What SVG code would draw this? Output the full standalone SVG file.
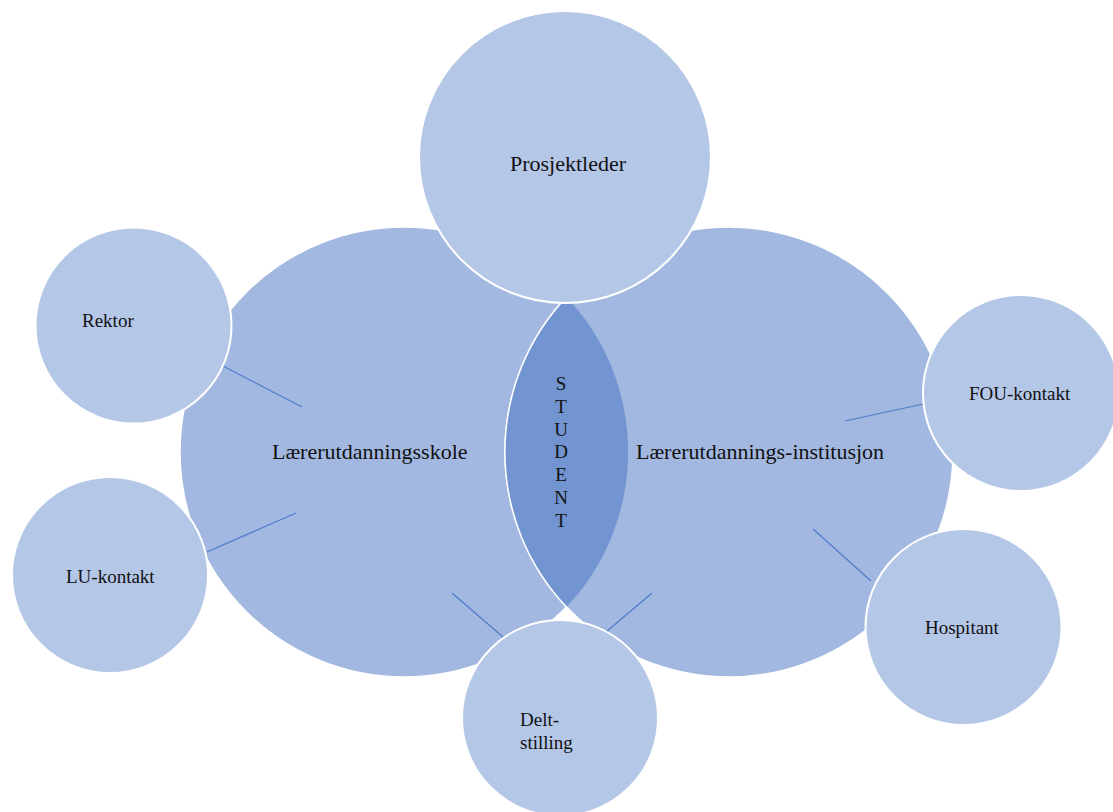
<svg xmlns="http://www.w3.org/2000/svg" width="1113" height="812" viewBox="0 0 1113 812">
<style>
.big{fill:#A2B8E0;stroke:#FFFFFF;stroke-width:1.5}
.sat{fill:#B4C7E7;stroke:#FFFFFF;stroke-width:2}
.lens{fill:#7295D1}
.conn line{stroke:#4F7BCB;stroke-width:1.2}
text{font-family:"Liberation Serif","Times New Roman",serif;fill:#111111}
.lbl{font-size:22px}
.sm{font-size:19px}
</style>
<rect width="1113" height="812" fill="#FFFFFF"/>
<g id="skole">
<ellipse class="big" cx="404" cy="452" rx="224" ry="225"/>
</g>
<g id="institusjon">
<ellipse class="big" cx="729" cy="452" rx="224" ry="225"/>
</g>
<g id="student">
<path class="lens" d="M566.5 297 A224 225 0 0 1 566.5 607 A224 225 0 0 1 566.5 297 Z"/>
<path d="M566.5 297 A224 225 0 0 0 566.5 607" fill="none" stroke="#FFFFFF" stroke-width="1.5"/>
<text class="sm" text-anchor="middle" x="561" y="390">S</text>
<text class="sm" text-anchor="middle" x="561" y="413">T</text>
<text class="sm" text-anchor="middle" x="561" y="436">U</text>
<text class="sm" text-anchor="middle" x="561" y="458">D</text>
<text class="sm" text-anchor="middle" x="561" y="481">E</text>
<text class="sm" text-anchor="middle" x="561" y="504">N</text>
<text class="sm" text-anchor="middle" x="561" y="527">T</text>
</g>
<g id="labels-big">
<text class="lbl" x="272" y="459">Lærerutdanningsskole</text>
<text class="lbl" x="636" y="459">Lærerutdannings-institusjon</text>
</g>
<g id="connectors" class="conn">
<line x1="223" y1="366" x2="302" y2="407"/>
<line x1="207" y1="552" x2="296" y2="513"/>
<line x1="452" y1="593" x2="503" y2="637"/>
<line x1="606" y1="632" x2="652" y2="593"/>
<line x1="845" y1="421" x2="923" y2="404"/>
<line x1="813" y1="529" x2="871" y2="581"/>
</g>
<g id="prosjektleder">
<circle class="sat" cx="565" cy="157" r="146"/>
<text class="lbl" x="510" y="171">Prosjektleder</text>
</g>
<g id="rektor">
<circle class="sat" cx="133.5" cy="325.5" r="98"/>
<text class="sm" x="82" y="327">Rektor</text>
</g>
<g id="lu-kontakt">
<circle class="sat" cx="110" cy="575" r="98"/>
<text class="sm" x="66" y="583">LU-kontakt</text>
</g>
<g id="delt-stilling">
<circle class="sat" cx="560" cy="718" r="98"/>
<text class="sm" x="520" y="726">Delt-</text>
<text class="sm" x="520" y="749">stilling</text>
</g>
<g id="fou-kontakt">
<circle class="sat" cx="1021" cy="393" r="98"/>
<text class="sm" x="969" y="400">FOU-kontakt</text>
</g>
<g id="hospitant">
<circle class="sat" cx="963.5" cy="627" r="98"/>
<text class="sm" x="925" y="634">Hospitant</text>
</g>
</svg>
